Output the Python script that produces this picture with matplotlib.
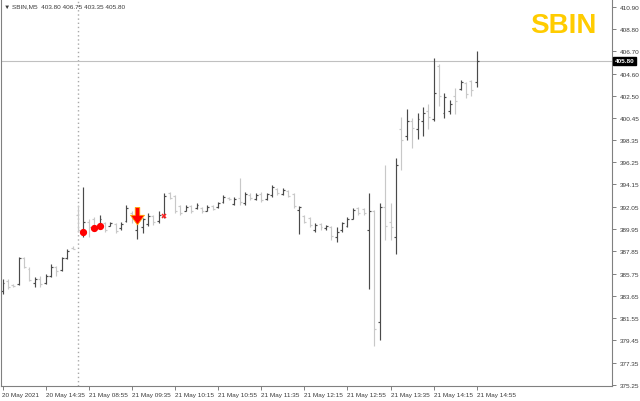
import numpy as np
import matplotlib
matplotlib.use("Agg")
import matplotlib.pyplot as plt
from matplotlib.path import Path
from matplotlib.transforms import blended_transform_factory

plt.rcParams['font.family'] = ['Liberation Sans', 'DejaVu Sans']

symbol = "SBIN"
timeframe = "M5"

# 5-minute OHLC bars, 20 May 2021 14:00 .. 21 May 2021 14:55
opens = [384.10, 385.05, 384.65, 384.75, 387.20, 386.15, 384.85, 385.25, 384.85, 385.50,
         386.35, 386.05, 387.20, 388.20, 391.30, 389.70, 390.65, 390.85, 390.25, 390.55,
         390.25, 390.45, 390.00, 390.75, 391.50, 389.90, 390.10, 390.45, 391.20, 390.75,
         391.20, 393.35, 393.05, 392.15, 391.65, 392.15, 391.95, 391.95, 391.65, 392.15,
         392.05, 392.50, 392.90, 392.30, 392.90, 392.40, 393.15, 392.80, 393.25, 392.80,
         393.15, 393.75, 393.25, 393.55, 393.25, 391.75, 391.20, 391.00, 389.90, 390.45,
         390.00, 390.10, 389.15, 389.90, 390.20, 390.90, 391.95, 391.85, 389.90, 391.60,
         381.20, 392.05, 390.65, 389.15, 399.40, 398.75, 400.15, 399.40, 400.15, 401.10,
         400.35, 405.30, 400.90, 401.10, 402.50, 403.15, 403.70, 403.90, 403.80]
highs = [385.25, 385.25, 384.75, 387.30, 387.30, 386.35, 385.40, 385.50, 385.70, 386.65,
         386.45, 387.35, 388.05, 388.30, 392.25, 393.90, 390.85, 391.10, 391.30, 390.65,
         390.65, 390.55, 390.65, 392.25, 391.60, 391.50, 391.00, 391.50, 391.30, 391.60,
         393.35, 393.45, 393.15, 392.25, 392.25, 392.25, 392.40, 392.05, 392.25, 392.25,
         392.50, 393.15, 393.00, 393.00, 394.75, 393.45, 393.35, 393.35, 393.45, 393.35,
         394.10, 393.80, 393.80, 393.65, 393.35, 392.15, 391.30, 391.10, 390.55, 390.55,
         390.35, 390.20, 390.10, 390.65, 391.10, 391.95, 392.05, 391.95, 393.35, 391.75,
         392.40, 395.95, 392.40, 396.60, 400.55, 401.30, 400.45, 400.90, 401.45, 401.75,
         406.05, 405.50, 402.80, 402.15, 403.25, 404.00, 403.80, 404.00, 406.75]
lows = [383.85, 384.30, 384.50, 384.65, 386.25, 385.05, 384.50, 384.50, 384.75, 385.40,
        385.50, 385.95, 387.10, 388.05, 389.70, 389.15, 389.15, 389.90, 390.20, 389.70,
        390.20, 389.60, 389.90, 390.65, 390.55, 389.05, 389.60, 390.20, 390.35, 390.55,
        391.00, 392.80, 391.50, 391.30, 391.60, 391.50, 391.85, 391.50, 391.60, 391.75,
        391.95, 392.40, 392.70, 392.25, 392.25, 392.25, 392.70, 392.70, 392.50, 392.70,
        393.00, 393.15, 393.15, 393.00, 391.95, 389.45, 390.55, 390.10, 389.70, 389.90,
        389.90, 388.95, 388.70, 389.70, 390.10, 390.85, 391.30, 391.30, 384.30, 378.95,
        379.45, 388.95, 388.95, 387.55, 395.50, 398.30, 397.55, 398.40, 398.75, 399.40,
        400.15, 401.55, 400.45, 400.75, 400.75, 403.05, 402.30, 402.50, 403.35]
closes = [384.85, 384.50, 384.55, 387.20, 386.35, 385.15, 385.25, 384.75, 385.50, 386.35,
          385.95, 387.20, 387.85, 388.10, 389.90, 390.65, 390.10, 390.25, 390.90, 389.90,
          390.55, 389.80, 390.45, 391.95, 390.85, 391.10, 390.85, 391.20, 390.65, 391.30,
          393.05, 392.90, 391.65, 391.50, 392.05, 391.65, 392.25, 391.60, 392.05, 391.85,
          392.40, 393.00, 392.80, 392.80, 392.50, 393.25, 392.90, 393.15, 392.70, 393.25,
          393.90, 393.35, 393.65, 393.05, 392.15, 392.05, 390.65, 390.35, 390.35, 390.10,
          390.20, 389.25, 389.70, 390.55, 390.90, 391.75, 391.50, 391.50, 391.60, 380.55,
          392.05, 390.20, 390.10, 395.95, 398.30, 400.15, 399.50, 400.35, 400.90, 400.55,
          402.80, 402.50, 402.40, 401.75, 402.05, 403.80, 402.70, 403.05, 405.80]

date_labels = ["20 May 2021", "20 May 14:35", "21 May 08:55", "21 May 09:35",
               "21 May 10:15", "21 May 10:55", "21 May 11:35", "21 May 12:15",
               "21 May 12:55", "21 May 13:35", "21 May 14:15", "21 May 14:55"]
price_ticks = [410.90, 408.80, 406.70, 404.60, 402.50, 400.45, 398.35, 396.25, 394.15,
               392.05, 389.95, 387.85, 385.75, 383.65, 381.55, 379.45, 377.35, 375.25]
day_start_bar = 14

# signal objects
dot_bars = [15, 17, 18]
dot_prices = [389.70, 390.05, 390.20]
arrow_bar = 25
arrow_price = 392.00
cross_bar = 30
cross_price = 391.20

UP = "#4a4a4a"
DOWN = "#c8c8c8"
FRAME = "#808080"
TXT = "#3a3a3a"

o = np.array(opens); h = np.array(highs); l = np.array(lows); c = np.array(closes)
x = np.arange(len(o))
cols = np.where(c >= o, UP, DOWN)

fig = plt.figure(figsize=(6.4, 4.02), dpi=100)
ax = fig.add_axes([1/640, 15/402, 611/640, 387/402])

ax.axvline(day_start_bar, color="#a8a8a8", lw=1, ls=(0, (1, 2)), zorder=1)
ax.axhline(closes[-1], color="#c0c0c0", lw=0.8, zorder=1)

tw = 0.36
ax.vlines(x, l, h, colors=cols, lw=0.85, zorder=2)
ax.hlines(o, x - tw, x, colors=cols, lw=0.85, zorder=2)
ax.hlines(c, x, x + tw, colors=cols, lw=0.85, zorder=2)

# signals
ax.plot(dot_bars, dot_prices, 'o', color="#ff0000", ms=4.2, mec="#ff0000", zorder=4)
arrow = Path([(-0.13, 0), (0.13, 0), (0.13, -0.45), (0.4, -0.45), (0, -1),
              (-0.4, -0.45), (-0.13, -0.45), (-0.13, 0)],
             [Path.MOVETO] + [Path.LINETO] * 6 + [Path.CLOSEPOLY])
ax.plot([arrow_bar], [arrow_price], marker=arrow, ms=25, color="#ff0000",
        mec="#ffa500", mew=0.6, ls="none", zorder=4)
ax.plot([cross_bar], [cross_price], 'x', color="#ff2020", ms=3.5, mew=1.1, zorder=4)

px = 5.39
ax.set_xlim(-1.5 / px, -1.5 / px + 611 / px)
ax.set_ylim(375.15, 411.63)

ax.set_xticks(np.arange(0, len(o), 8))
ax.set_xticklabels(date_labels)
for lbl in ax.get_xticklabels():
    lbl.set_horizontalalignment("left")
ax.tick_params(axis="x", length=3, width=0.7, color=FRAME, labelcolor=TXT,
               labelsize=4.6, pad=1.2)

ax.yaxis.tick_right()
ax.set_yticks(price_ticks)
ax.set_yticklabels([f"{v:.2f}" for v in price_ticks])
ax.tick_params(axis="y", length=3, width=0.7, color=FRAME, labelcolor=TXT,
               labelsize=4.6, pad=2.5)
for lbl in ax.get_yticklabels():
    lbl.set_clip_on(False)

for side in ["left", "right", "bottom"]:
    ax.spines[side].set_color(FRAME)
    ax.spines[side].set_linewidth(0.8)
ax.spines["top"].set_visible(False)

tr = blended_transform_factory(ax.transAxes, ax.transData)
ax.text(1.004, closes[-1], f"{closes[-1]:.2f}", transform=tr, va="center", ha="left",
        fontsize=4.6, color="white", fontweight="bold",
        bbox=dict(boxstyle="square,pad=0.25", fc="black", ec="black"))

fig.text(4 / 640, 1 - 7 / 402,
         f"\u25bc {symbol},{timeframe}  {opens[-1]:.2f} {highs[-1]:.2f} {lows[-1]:.2f} {closes[-1]:.2f}",
         fontsize=4.6, color=TXT, va="center", ha="left",
         family=["Liberation Sans", "DejaVu Sans"])
fig.text(597 / 640, 1 - 26 / 402, symbol, fontsize=20, fontweight="bold",
         color="#ffcc00", ha="right", va="center")

fig.savefig("out.png", dpi=100)
